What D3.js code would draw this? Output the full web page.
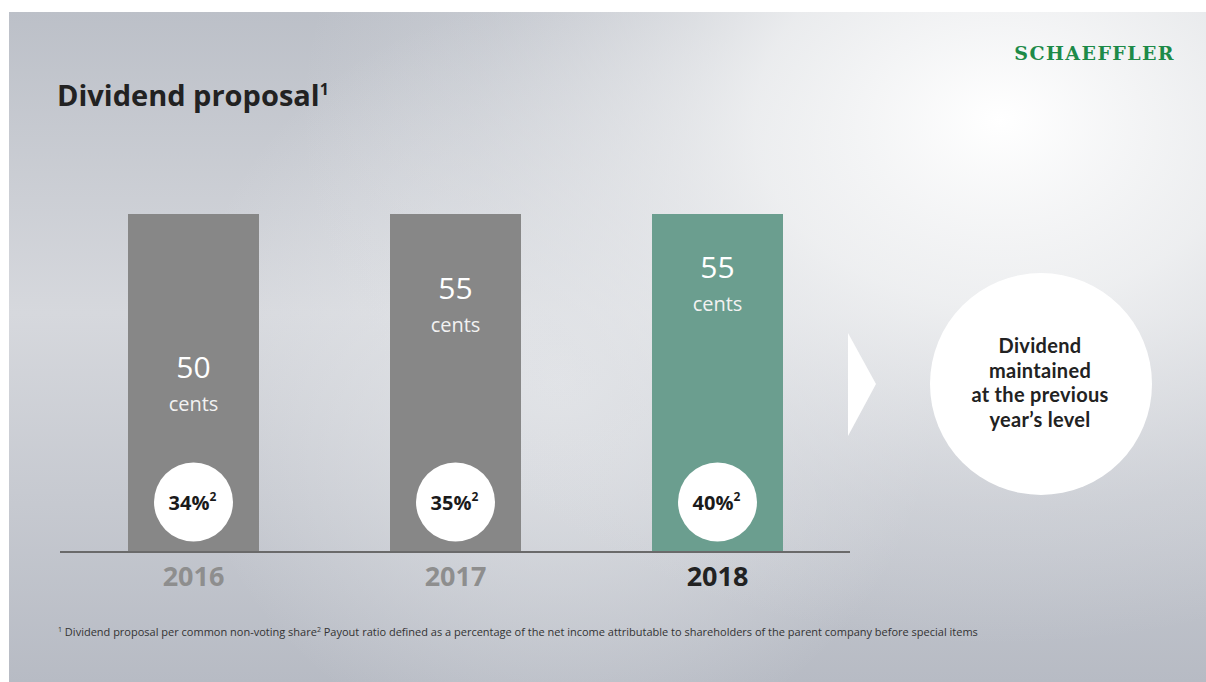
<!DOCTYPE html>
<html><head><meta charset="utf-8">
<script src="https://cdn.jsdelivr.net/npm/d3@7"></script>
<style>html,body{margin:0;padding:0;background:#fff;}svg{display:block;}</style>
</head><body>
<svg id="chart" width="1206" height="682"></svg>
<script>
const years = ["2016", "2017", "2018"];
const dividends = [50, 55, 55];
const payoutRatios = [34, 35, 40];
const unitLabel = "cents";
const highlightYear = "2018";
const title = "Dividend proposal";
const conclusion = ["Dividend", "maintained", "at the previous", "year\u2019s level"];
const footnote1 = "Dividend proposal per common non-voting share";
const footnote2 = "Payout ratio defined as a percentage of the net income attributable to shareholders of the parent company before special items";

const svg = d3.select("#chart");
const font = "'Open Sans', 'Noto Sans', sans-serif";

// background
const defs = svg.append("defs");
const lg = defs.append("linearGradient").attr("id", "bgLin").attr("x1", 0).attr("y1", 0).attr("x2", 0).attr("y2", 1);
lg.append("stop").attr("offset", "0%").attr("stop-color", "#bcc0c8");
lg.append("stop").attr("offset", "45%").attr("stop-color", "#d6d8dd");
lg.append("stop").attr("offset", "100%").attr("stop-color", "#b7bbc4");
const rg = defs.append("radialGradient").attr("id", "bgRad")
  .attr("gradientUnits", "userSpaceOnUse").attr("cx", 1000).attr("cy", 120).attr("r", 700)
  .attr("gradientTransform", "translate(1000,120) scale(1,0.75) translate(-1000,-120)");
rg.append("stop").attr("offset", "0%").attr("stop-color", "#ffffff").attr("stop-opacity", 1);
rg.append("stop").attr("offset", "35%").attr("stop-color", "#f2f3f4").attr("stop-opacity", 0.85);
rg.append("stop").attr("offset", "75%").attr("stop-color", "#dfe1e5").attr("stop-opacity", 0.3);
rg.append("stop").attr("offset", "100%").attr("stop-color", "#dfe1e5").attr("stop-opacity", 0);
const rg2 = defs.append("radialGradient").attr("id", "bgRad2")
  .attr("gradientUnits", "userSpaceOnUse").attr("cx", 560).attr("cy", 380).attr("r", 380);
rg2.append("stop").attr("offset", "0%").attr("stop-color", "#e6e8eb").attr("stop-opacity", 0.8);
rg2.append("stop").attr("offset", "100%").attr("stop-color", "#e6e8eb").attr("stop-opacity", 0);

const slide = {x: 9, y: 12, w: 1197, h: 670};
svg.append("rect").attr("x", slide.x).attr("y", slide.y).attr("width", slide.w).attr("height", slide.h).attr("fill", "url(#bgLin)");
svg.append("rect").attr("x", slide.x).attr("y", slide.y).attr("width", slide.w).attr("height", slide.h).attr("fill", "url(#bgRad2)");
svg.append("rect").attr("x", slide.x).attr("y", slide.y).attr("width", slide.w).attr("height", slide.h).attr("fill", "url(#bgRad)");

// title
const t = svg.append("text").attr("x", 57).attr("y", 106)
  .attr("font-family", font).attr("font-weight", 700).attr("font-size", 29).attr("fill", "#222");
t.append("tspan").text(title);
t.append("tspan").attr("font-size", 16).attr("dy", -11).text("1");

// logo
svg.append("text").attr("x", 1175).attr("y", 60).attr("text-anchor", "end")
  .attr("font-family", "'DejaVu Serif', 'Liberation Serif', serif").attr("font-weight", 700)
  .attr("font-size", 19).attr("fill", "#1d8a48").attr("letter-spacing", 1.4).text("SCHAEFFLER");

// scales
const x = d3.scaleBand().domain(years).range([62.5, 848.5]).paddingInner(0.5).paddingOuter(0.25);
const y = d3.scaleLinear().domain([0, 60]).range([551, 214]);
const colMax = 60; // columns drawn as full-height panels, as in the slide

const g = svg.append("g");
const bars = g.selectAll("g.bar").data(years.map((yr, i) => ({yr, v: dividends[i], p: payoutRatios[i], i})))
  .join("g").attr("class", "bar");

bars.append("rect")
  .attr("x", d => x(d.yr)).attr("width", x.bandwidth())
  .attr("y", y(colMax)).attr("height", y(0) - y(colMax))
  .attr("fill", d => d.yr === highlightYear ? "#6b9e8f" : "#878787");

const labelBase = [378, 299, 278];
bars.append("text").attr("x", d => x(d.yr) + x.bandwidth() / 2).attr("y", d => labelBase[d.i])
  .attr("text-anchor", "middle").attr("font-family", font).attr("font-size", 30).attr("fill", "#fff")
  .text(d => d.v);
bars.append("text").attr("x", d => x(d.yr) + x.bandwidth() / 2).attr("y", d => labelBase[d.i] + 33)
  .attr("text-anchor", "middle").attr("font-family", font).attr("font-size", 20).attr("fill", "#f2f2f2")
  .text(unitLabel);

bars.append("circle").attr("cx", d => x(d.yr) + x.bandwidth() / 2).attr("cy", 502).attr("r", 39.5).attr("fill", "#fff");
const pt = bars.append("text").attr("x", d => x(d.yr) + x.bandwidth() / 2 - 1).attr("y", 510)
  .attr("text-anchor", "middle").attr("font-family", font).attr("font-weight", 700).attr("font-size", 20).attr("fill", "#1a1a1a");
pt.append("tspan").text(d => d.p + "%");
pt.append("tspan").attr("font-size", 12).attr("dy", -9).text("2");

// axis baseline
g.append("line").attr("x1", 60).attr("x2", 850).attr("y1", y(0) + 1).attr("y2", y(0) + 1)
  .attr("stroke", "#6a6a6a").attr("stroke-width", 2);

// year labels via axis
const ax = g.append("g").attr("transform", `translate(0,${y(0) + 2})`)
  .call(d3.axisBottom(x).tickSize(0).tickPadding(14));
ax.select(".domain").remove();
ax.selectAll("text").attr("font-family", font).attr("font-weight", 700).attr("font-size", 27)
  .attr("fill", d => d === highlightYear ? "#222" : "#8e8e8e");

// arrow
svg.append("path").attr("d", "M848,333 L876,384 L848,436 Z").attr("fill", "#fff");

// conclusion circle
svg.append("circle").attr("cx", 1041).attr("cy", 384).attr("r", 111).attr("fill", "#fff");
svg.append("g").selectAll("text").data(conclusion).join("text")
  .attr("x", 1040).attr("y", (d, i) => 353 + i * 24.5).attr("text-anchor", "middle")
  .attr("font-family", "Lato, 'Open Sans', sans-serif").attr("font-weight", 700).attr("font-size", 20)
  .attr("letter-spacing", 0.3).attr("fill", "#222").text(d => d);

// footnote
const fn = svg.append("text").attr("x", 58).attr("y", 636).attr("font-family", font).attr("font-size", 11).attr("fill", "#333");
fn.append("tspan").attr("font-size", 7).attr("dy", -4).text("1");
fn.append("tspan").attr("dy", 4).text(" " + footnote1);
fn.append("tspan").attr("font-size", 7).attr("dy", -4).text("2");
fn.append("tspan").attr("dy", 4).text(" " + footnote2);
</script>
</body></html>
